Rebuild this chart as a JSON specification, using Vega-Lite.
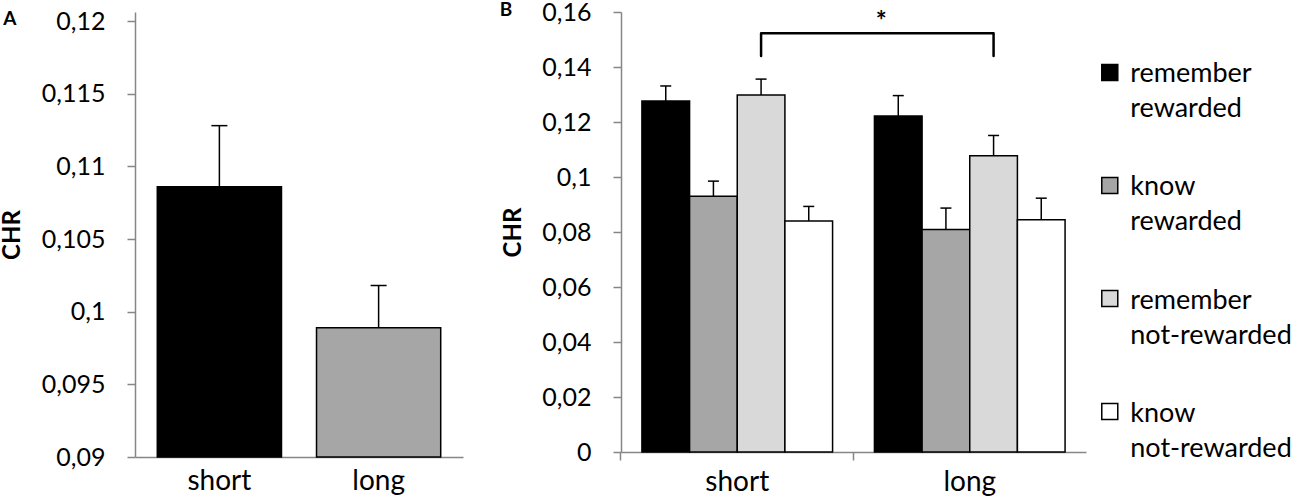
{
  "$schema": "https://vega.github.io/schema/vega-lite/v6.json",
  "padding": {"left": 0, "top": 0, "right": 0, "bottom": 0},
  "config": {
    "view": {"stroke": null},
    "font": "Lato",
    "axis": {
      "domainColor": "#868686", "tickColor": "#868686", "domainWidth": 1.5, "tickWidth": 1.5, "tickSize": 8,
      "labelFont": "Lato", "labelFontSize": 25, "labelColor": "#000", "grid": false,
      "titleFont": "Lato", "titleFontSize": 24, "titleFontWeight": "bold", "titleColor": "#000"
    },
    "axisX": {"labelFontSize": 28},
    "title": {"font": "Lato", "fontSize": 19, "fontWeight": "bold", "anchor": "start", "frame": "bounds", "color": "#000"},
    "style": {"group-title": {"font": "Lato", "fontSize": 19, "fontWeight": "bold", "fill": "#000"}}
  },
  "datasets": {
    "a": [
      {"length": "short", "chr": 0.1086, "err": 0.1128},
      {"length": "long", "chr": 0.0989, "err": 0.1018}
    ],
    "b": [
      {"length": "short", "type": "remember rewarded", "chr": 0.1276, "err": 0.1331},
      {"length": "short", "type": "know rewarded", "chr": 0.0930, "err": 0.0985},
      {"length": "short", "type": "remember not-rewarded", "chr": 0.1298, "err": 0.1356},
      {"length": "short", "type": "know not-rewarded", "chr": 0.0840, "err": 0.0893},
      {"length": "long", "type": "remember rewarded", "chr": 0.1222, "err": 0.1296},
      {"length": "long", "type": "know rewarded", "chr": 0.0809, "err": 0.0887},
      {"length": "long", "type": "remember not-rewarded", "chr": 0.1077, "err": 0.1151},
      {"length": "long", "type": "know not-rewarded", "chr": 0.0845, "err": 0.0923}
    ],
    "bracket": [
      {"length": "short", "type": "remember not-rewarded", "v": 0.1440, "ord": 1},
      {"length": "short", "type": "remember not-rewarded", "v": 0.15225, "ord": 2},
      {"length": "long", "type": "remember not-rewarded", "v": 0.15225, "ord": 3},
      {"length": "long", "type": "remember not-rewarded", "v": 0.1440, "ord": 4}
    ],
    "star": [
      {"length": "long", "type": "remember rewarded", "v": 0.1562, "label": "*"}
    ],
    "legend": [
      {"type": "remember rewarded"},
      {"type": "know rewarded"},
      {"type": "remember not-rewarded"},
      {"type": "know not-rewarded"}
    ]
  },
  "resolve": {"scale": {"x": "independent", "y": "independent", "color": "independent"}},
  "spacing": 36,
  "hconcat": [
    {
      "width": 328,
      "height": 445,
      "title": {"text": "A", "offset": -20, "dx": 3, "fontSize": 19},
      "data": {"name": "a"},
      "encoding": {
        "x": {
          "field": "length", "type": "nominal",
          "scale": {"domain": ["short", "long"], "paddingInner": 0.22, "paddingOuter": 0.14},
          "axis": {"title": null, "labelAngle": 0, "ticks": false, "labelPadding": 10}
        }
      },
      "layer": [
        {
          "mark": {"type": "bar", "stroke": "#000", "strokeWidth": 1.5},
          "encoding": {
            "y": {
              "field": "chr", "type": "quantitative",
              "scale": {"domain": [0.09, 0.12062], "nice": false, "zero": false},
              "axis": {
                "title": "CHR",
                "values": [0.09, 0.095, 0.1, 0.105, 0.11, 0.115, 0.12],
                "labelExpr": "replace(format(datum.value, '~g'), '.', ',')",
                "labelPadding": 22, "titlePadding": 17
              }
            },
            "y2": {"datum": 0.09},
            "color": {"field": "length", "type": "nominal", "scale": {"domain": ["short", "long"], "range": ["#000000", "#a6a6a6"]}, "legend": null}
          }
        },
        {
          "mark": {"type": "rule", "strokeWidth": 1.5, "color": "#000"},
          "encoding": {"y": {"field": "chr", "type": "quantitative"}, "y2": {"field": "err"}}
        },
        {
          "mark": {"type": "tick", "size": 16, "thickness": 1.5, "color": "#000", "opacity": 1},
          "encoding": {"y": {"field": "err", "type": "quantitative"}}
        }
      ]
    },
    {
      "spacing": 12,
      "resolve": {"scale": {"x": "independent", "y": "independent", "color": "independent"}},
      "hconcat": [
        {
          "width": 465,
          "height": 440,
          "title": {"text": "B", "offset": -20, "dx": -2, "fontSize": 19},
          "data": {"name": "b"},
          "encoding": {
            "x": {
              "field": "length", "type": "nominal",
              "scale": {"domain": ["short", "long"], "paddingInner": 0.18, "paddingOuter": 0.09},
              "axis": {"title": null, "labelAngle": 0, "bandPosition": -0.11, "labelPadding": 8}
            },
            "xOffset": {
              "field": "type", "type": "nominal",
              "scale": {"domain": ["remember rewarded", "know rewarded", "remember not-rewarded", "know not-rewarded"], "paddingInner": 0, "paddingOuter": 0}
            }
          },
          "layer": [
            {
              "mark": {"type": "bar", "stroke": "#000", "strokeWidth": 1.5},
              "encoding": {
                "y": {
                  "field": "chr", "type": "quantitative",
                  "scale": {"domain": [0, 0.16], "nice": false},
                  "axis": {
                    "title": "CHR",
                    "values": [0, 0.02, 0.04, 0.06, 0.08, 0.1, 0.12, 0.14, 0.16],
                    "labelExpr": "replace(format(datum.value, '~g'), '.', ',')",
                    "labelPadding": 22, "titlePadding": 16
                  }
                },
                "color": {
                  "field": "type", "type": "nominal",
                  "scale": {"domain": ["remember rewarded", "know rewarded", "remember not-rewarded", "know not-rewarded"], "range": ["#000000", "#a6a6a6", "#d9d9d9", "#ffffff"]},
                  "legend": null
                }
              }
            },
            {
              "mark": {"type": "rule", "strokeWidth": 1.5, "color": "#000"},
              "encoding": {"y": {"field": "chr", "type": "quantitative"}, "y2": {"field": "err"}}
            },
            {
              "mark": {"type": "tick", "size": 11, "thickness": 1.5, "color": "#000", "opacity": 1},
              "encoding": {"y": {"field": "err", "type": "quantitative"}}
            },
            {
              "data": {"name": "bracket"},
              "mark": {"type": "line", "strokeWidth": 2.5, "color": "#000", "strokeJoin": "round", "strokeCap": "round"},
              "encoding": {
                "y": {"field": "v", "type": "quantitative"},
                "order": {"field": "ord", "type": "quantitative"}
              }
            },
            {
              "data": {"name": "star"},
              "mark": {"type": "text", "fontSize": 26, "fontWeight": "bold", "dx": -17, "baseline": "middle", "color": "#000"},
              "encoding": {
                "y": {"field": "v", "type": "quantitative"},
                "text": {"field": "label"}
              }
            }
          ]
        },
        {
          "width": 195,
          "height": 460,
          "data": {"name": "legend"},
          "encoding": {
            "y": {
              "field": "type", "type": "nominal",
              "scale": {"type": "point", "domain": ["remember rewarded", "know rewarded", "remember not-rewarded", "know not-rewarded"], "padding": 0.534},
              "axis": null
            }
          },
          "layer": [
            {
              "mark": {"type": "point", "shape": "square", "filled": true, "size": 256, "stroke": "#000", "strokeWidth": 1.5, "opacity": 1},
              "encoding": {
                "x": {"datum": 0.45, "type": "quantitative", "scale": {"domain": [0, 10], "nice": false}, "axis": null},
                "fill": {
                  "field": "type", "type": "nominal",
                  "scale": {"domain": ["remember rewarded", "know rewarded", "remember not-rewarded", "know not-rewarded"], "range": ["#000000", "#a6a6a6", "#d9d9d9", "#ffffff"]},
                  "legend": null
                }
              }
            },
            {
              "mark": {"type": "text", "align": "left", "baseline": "alphabetic", "dy": 10, "fontSize": 27, "lineHeight": 35, "lineBreak": " ", "font": "Lato", "color": "#000"},
              "encoding": {
                "x": {"datum": 1.5, "type": "quantitative"},
                "text": {"field": "type"}
              }
            }
          ]
        }
      ]
    }
  ]
}
